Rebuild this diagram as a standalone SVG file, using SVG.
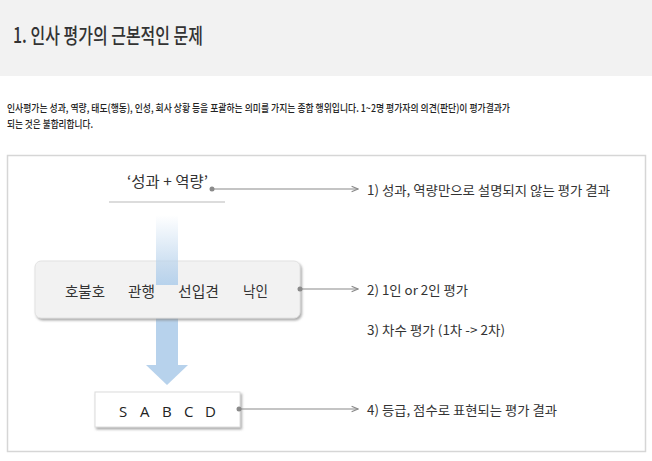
<svg xmlns="http://www.w3.org/2000/svg" width="652" height="461" viewBox="0 0 652 461">
<defs>
<style>
.t{font-family:"Noto Sans CJK KR","Noto Sans",sans-serif;fill:#333}
.p{font-family:"Noto Sans CJK KR","Noto Sans",sans-serif;fill:#222}
.lat{font-family:"Open Sans","Noto Sans",sans-serif;fill:#222}
.conn{stroke:#8a8a8a;stroke-width:1.2;fill:none}
.dot{fill:#8a8a8a}
</style>
<linearGradient id="fade" x1="0" y1="0" x2="0" y2="1">
<stop offset="0" stop-color="#b7d2ec" stop-opacity="0"/>
<stop offset="1" stop-color="#b7d2ec"/>
</linearGradient>
<filter id="sh" x="-10%" y="-20%" width="125%" height="150%">
<feDropShadow dx="1.5" dy="2" stdDeviation="1.2" flood-color="#888" flood-opacity="0.7"/>
</filter>
<marker id="ah" viewBox="0 0 10 10" refX="9" refY="5" markerWidth="8" markerHeight="8" markerUnits="userSpaceOnUse" orient="auto">
<path d="M1,1.5 L9,5 L1,8.5" fill="none" stroke="#8a8a8a" stroke-width="1.4"/>
</marker>
</defs>
<rect x="0" y="0" width="652" height="461" fill="#fff"/>
<rect x="0" y="0" width="652" height="76" fill="#f2f2f2"/>
<text class="t" x="13" y="43" font-size="21" font-weight="500" textLength="190" lengthAdjust="spacingAndGlyphs">1. 인사 평가의 근본적인 문제</text>
<text class="p" x="7" y="111.5" font-size="10.5" font-weight="500" textLength="503" lengthAdjust="spacingAndGlyphs">인사평가는 성과, 역량, 태도(행동), 인성, 회사 상황 등을 포괄하는 의미를 가지는 종합 행위입니다. 1~2명 평가자의 의견(판단)이 평가결과가</text>
<text class="p" x="7" y="127.5" font-size="10.5" font-weight="500" textLength="86" lengthAdjust="spacingAndGlyphs">되는 것은 불합리합니다.</text>
<rect x="7.5" y="155.5" width="638" height="296" fill="#fff" stroke="#d6d6d6" stroke-width="1.5"/>

<g id="flow-arrow">
<rect x="156" y="318" width="22" height="48" fill="#b7d2ec"/>
<polygon points="146,365 188,365 167,385" fill="#b7d2ec"/>
</g>

<g id="top-label">
<text class="t" x="127" y="187" font-size="15" textLength="81" lengthAdjust="spacingAndGlyphs">‘성과 + 역량’</text>
<line x1="109" y1="202" x2="225" y2="202" stroke="#dcdcdc" stroke-width="2"/>
</g>

<g id="bias-box">
<rect x="35" y="261" width="265" height="57" rx="6" fill="#f2f2f2" stroke="#e2e2e2" stroke-width="1" filter="url(#sh)"/>
<text class="t" x="65" y="297" font-size="15" textLength="40" lengthAdjust="spacingAndGlyphs">호불호</text>
<text class="t" x="128" y="297" font-size="15" textLength="27" lengthAdjust="spacingAndGlyphs">관행</text>
<text class="t" x="178" y="297" font-size="15" textLength="41" lengthAdjust="spacingAndGlyphs">선입견</text>
<text class="t" x="243" y="297" font-size="15" textLength="25" lengthAdjust="spacingAndGlyphs">낙인</text>
</g>

<g id="flow-arrow-top">
<rect x="156" y="215" width="22" height="70" fill="url(#fade)"/>
</g>

<g id="grade-box">
<rect x="95" y="392" width="145" height="35" fill="#fff" stroke="#dcdcdc" stroke-width="1" filter="url(#sh)"/>
<text class="lat" x="119 140 162 184 205" y="417" font-size="15">SABCD</text>
</g>

<g id="connectors">
<circle class="dot" cx="212" cy="189" r="2.5"/>
<line class="conn" x1="212" y1="189" x2="358" y2="189" marker-end="url(#ah)"/>
<circle class="dot" cx="300" cy="289" r="2.5"/>
<line class="conn" x1="300" y1="289" x2="358" y2="289" marker-end="url(#ah)"/>
<circle class="dot" cx="239" cy="409" r="2.5"/>
<line class="conn" x1="239" y1="409" x2="358" y2="409" marker-end="url(#ah)"/>
</g>

<g id="notes">
<text class="t" x="367" y="195" font-size="13" textLength="243" lengthAdjust="spacingAndGlyphs">1) 성과, 역량만으로 설명되지 않는 평가 결과</text>
<text class="t" x="367" y="295" font-size="13" textLength="101" lengthAdjust="spacingAndGlyphs">2) 1인 or 2인 평가</text>
<text class="t" x="367" y="335" font-size="13" textLength="138" lengthAdjust="spacingAndGlyphs">3) 차수 평가 (1차 -&gt; 2차)</text>
<text class="t" x="367" y="415" font-size="13" textLength="190" lengthAdjust="spacingAndGlyphs">4) 등급, 점수로 표현되는 평가 결과</text>
</g>
</svg>
